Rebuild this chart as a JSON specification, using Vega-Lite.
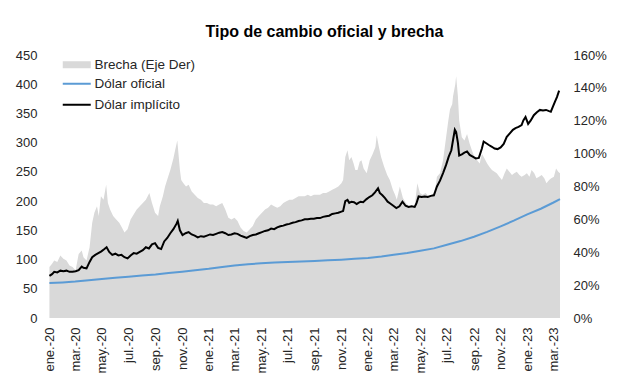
{
  "$schema": "https://vega.github.io/schema/vega-lite/v6.json",
  "width": 511,
  "height": 263,
  "autosize": "none",
  "padding": {"left": 49, "top": 55, "right": 57, "bottom": 74},
  "background": "white",
  "config": {"font": "Liberation Sans", "view": {"stroke": null}},
  "title": {"text": "Tipo de cambio oficial y brecha", "fontSize": 16, "fontWeight": "bold", "color": "#000000", "offset": 9, "dx": 20, "anchor": "middle"},
  "datasets": {
    "brecha": [
      {"fecha": "2020-01-02", "brecha": 0.31}, {"fecha": "2020-01-08", "brecha": 0.33}, {"fecha": "2020-01-13", "brecha": 0.35}, {"fecha": "2020-01-20", "brecha": 0.34}, {"fecha": "2020-01-27", "brecha": 0.38},
      {"fecha": "2020-02-03", "brecha": 0.36}, {"fecha": "2020-02-10", "brecha": 0.35}, {"fecha": "2020-02-17", "brecha": 0.32}, {"fecha": "2020-02-24", "brecha": 0.31},
      {"fecha": "2020-03-02", "brecha": 0.29}, {"fecha": "2020-03-09", "brecha": 0.39}, {"fecha": "2020-03-16", "brecha": 0.41}, {"fecha": "2020-03-20", "brecha": 0.37}, {"fecha": "2020-03-27", "brecha": 0.35},
      {"fecha": "2020-04-03", "brecha": 0.43}, {"fecha": "2020-04-09", "brecha": 0.58}, {"fecha": "2020-04-14", "brecha": 0.64}, {"fecha": "2020-04-20", "brecha": 0.68}, {"fecha": "2020-04-24", "brecha": 0.62}, {"fecha": "2020-04-29", "brecha": 0.74},
      {"fecha": "2020-05-05", "brecha": 0.72}, {"fecha": "2020-05-11", "brecha": 0.81}, {"fecha": "2020-05-15", "brecha": 0.70}, {"fecha": "2020-05-20", "brecha": 0.66}, {"fecha": "2020-05-27", "brecha": 0.62},
      {"fecha": "2020-06-03", "brecha": 0.60}, {"fecha": "2020-06-10", "brecha": 0.58}, {"fecha": "2020-06-16", "brecha": 0.55}, {"fecha": "2020-06-22", "brecha": 0.52}, {"fecha": "2020-06-29", "brecha": 0.54},
      {"fecha": "2020-07-06", "brecha": 0.60}, {"fecha": "2020-07-13", "brecha": 0.63}, {"fecha": "2020-07-20", "brecha": 0.66}, {"fecha": "2020-07-27", "brecha": 0.68},
      {"fecha": "2020-08-03", "brecha": 0.70}, {"fecha": "2020-08-10", "brecha": 0.72}, {"fecha": "2020-08-18", "brecha": 0.76}, {"fecha": "2020-08-24", "brecha": 0.70}, {"fecha": "2020-08-31", "brecha": 0.64},
      {"fecha": "2020-09-07", "brecha": 0.62}, {"fecha": "2020-09-11", "brecha": 0.68}, {"fecha": "2020-09-18", "brecha": 0.74}, {"fecha": "2020-09-23", "brecha": 0.80}, {"fecha": "2020-09-30", "brecha": 0.86},
      {"fecha": "2020-10-05", "brecha": 0.90}, {"fecha": "2020-10-12", "brecha": 0.97}, {"fecha": "2020-10-16", "brecha": 1.02}, {"fecha": "2020-10-21", "brecha": 1.08}, {"fecha": "2020-10-27", "brecha": 0.90}, {"fecha": "2020-10-30", "brecha": 0.84},
      {"fecha": "2020-11-04", "brecha": 0.82}, {"fecha": "2020-11-10", "brecha": 0.80}, {"fecha": "2020-11-16", "brecha": 0.81}, {"fecha": "2020-11-23", "brecha": 0.77}, {"fecha": "2020-11-30", "brecha": 0.75},
      {"fecha": "2020-12-07", "brecha": 0.73}, {"fecha": "2020-12-14", "brecha": 0.72}, {"fecha": "2020-12-21", "brecha": 0.70}, {"fecha": "2020-12-28", "brecha": 0.70},
      {"fecha": "2021-01-04", "brecha": 0.69}, {"fecha": "2021-01-11", "brecha": 0.69}, {"fecha": "2021-01-18", "brecha": 0.68}, {"fecha": "2021-01-25", "brecha": 0.69},
      {"fecha": "2021-02-01", "brecha": 0.70}, {"fecha": "2021-02-08", "brecha": 0.66}, {"fecha": "2021-02-15", "brecha": 0.61}, {"fecha": "2021-02-22", "brecha": 0.60},
      {"fecha": "2021-03-01", "brecha": 0.61}, {"fecha": "2021-03-08", "brecha": 0.59}, {"fecha": "2021-03-15", "brecha": 0.55}, {"fecha": "2021-03-22", "brecha": 0.53}, {"fecha": "2021-03-29", "brecha": 0.52},
      {"fecha": "2021-04-05", "brecha": 0.54}, {"fecha": "2021-04-12", "brecha": 0.56}, {"fecha": "2021-04-19", "brecha": 0.60}, {"fecha": "2021-04-26", "brecha": 0.62},
      {"fecha": "2021-05-03", "brecha": 0.64}, {"fecha": "2021-05-10", "brecha": 0.66}, {"fecha": "2021-05-17", "brecha": 0.67}, {"fecha": "2021-05-24", "brecha": 0.69}, {"fecha": "2021-05-31", "brecha": 0.68},
      {"fecha": "2021-06-07", "brecha": 0.67}, {"fecha": "2021-06-14", "brecha": 0.68}, {"fecha": "2021-06-21", "brecha": 0.70}, {"fecha": "2021-06-28", "brecha": 0.71},
      {"fecha": "2021-07-05", "brecha": 0.72}, {"fecha": "2021-07-12", "brecha": 0.72}, {"fecha": "2021-07-19", "brecha": 0.73}, {"fecha": "2021-07-26", "brecha": 0.74},
      {"fecha": "2021-08-02", "brecha": 0.74}, {"fecha": "2021-08-09", "brecha": 0.74}, {"fecha": "2021-08-16", "brecha": 0.75}, {"fecha": "2021-08-23", "brecha": 0.74}, {"fecha": "2021-08-30", "brecha": 0.75},
      {"fecha": "2021-09-06", "brecha": 0.75}, {"fecha": "2021-09-13", "brecha": 0.75}, {"fecha": "2021-09-20", "brecha": 0.76}, {"fecha": "2021-09-27", "brecha": 0.76},
      {"fecha": "2021-10-04", "brecha": 0.77}, {"fecha": "2021-10-11", "brecha": 0.78}, {"fecha": "2021-10-18", "brecha": 0.79}, {"fecha": "2021-10-25", "brecha": 0.80},
      {"fecha": "2021-11-01", "brecha": 0.82}, {"fecha": "2021-11-05", "brecha": 0.84}, {"fecha": "2021-11-10", "brecha": 0.98}, {"fecha": "2021-11-15", "brecha": 1.02}, {"fecha": "2021-11-19", "brecha": 0.96}, {"fecha": "2021-11-24", "brecha": 0.98}, {"fecha": "2021-11-29", "brecha": 0.94},
      {"fecha": "2021-12-03", "brecha": 0.90}, {"fecha": "2021-12-08", "brecha": 0.90}, {"fecha": "2021-12-13", "brecha": 0.95}, {"fecha": "2021-12-17", "brecha": 0.96}, {"fecha": "2021-12-22", "brecha": 0.91}, {"fecha": "2021-12-29", "brecha": 0.88},
      {"fecha": "2022-01-05", "brecha": 0.96}, {"fecha": "2022-01-12", "brecha": 1.00}, {"fecha": "2022-01-18", "brecha": 1.04}, {"fecha": "2022-01-21", "brecha": 1.11}, {"fecha": "2022-01-26", "brecha": 1.04}, {"fecha": "2022-01-31", "brecha": 0.98},
      {"fecha": "2022-02-07", "brecha": 0.92}, {"fecha": "2022-02-14", "brecha": 0.87}, {"fecha": "2022-02-20", "brecha": 0.84}, {"fecha": "2022-02-27", "brecha": 0.78},
      {"fecha": "2022-03-04", "brecha": 0.75}, {"fecha": "2022-03-08", "brecha": 0.72}, {"fecha": "2022-03-15", "brecha": 0.80}, {"fecha": "2022-03-22", "brecha": 0.73}, {"fecha": "2022-03-29", "brecha": 0.70},
      {"fecha": "2022-04-05", "brecha": 0.68}, {"fecha": "2022-04-12", "brecha": 0.67}, {"fecha": "2022-04-18", "brecha": 0.68}, {"fecha": "2022-04-24", "brecha": 0.82}, {"fecha": "2022-04-30", "brecha": 0.76},
      {"fecha": "2022-05-06", "brecha": 0.75}, {"fecha": "2022-05-13", "brecha": 0.76}, {"fecha": "2022-05-20", "brecha": 0.74}, {"fecha": "2022-05-27", "brecha": 0.75},
      {"fecha": "2022-06-03", "brecha": 0.76}, {"fecha": "2022-06-08", "brecha": 0.86}, {"fecha": "2022-06-15", "brecha": 0.88}, {"fecha": "2022-06-22", "brecha": 0.96}, {"fecha": "2022-06-29", "brecha": 1.10},
      {"fecha": "2022-07-04", "brecha": 1.20}, {"fecha": "2022-07-08", "brecha": 1.27}, {"fecha": "2022-07-13", "brecha": 1.30}, {"fecha": "2022-07-15", "brecha": 1.35}, {"fecha": "2022-07-20", "brecha": 1.42}, {"fecha": "2022-07-22", "brecha": 1.47}, {"fecha": "2022-07-26", "brecha": 1.35}, {"fecha": "2022-07-29", "brecha": 1.20},
      {"fecha": "2022-08-04", "brecha": 1.10}, {"fecha": "2022-08-10", "brecha": 1.08}, {"fecha": "2022-08-16", "brecha": 1.12}, {"fecha": "2022-08-22", "brecha": 1.06}, {"fecha": "2022-08-27", "brecha": 1.02},
      {"fecha": "2022-09-02", "brecha": 0.98}, {"fecha": "2022-09-08", "brecha": 0.96}, {"fecha": "2022-09-14", "brecha": 0.94}, {"fecha": "2022-09-19", "brecha": 1.00}, {"fecha": "2022-09-25", "brecha": 0.97},
      {"fecha": "2022-10-01", "brecha": 0.94}, {"fecha": "2022-10-06", "brecha": 0.92}, {"fecha": "2022-10-12", "brecha": 0.90}, {"fecha": "2022-10-18", "brecha": 0.89}, {"fecha": "2022-10-23", "brecha": 0.88}, {"fecha": "2022-10-29", "brecha": 0.86},
      {"fecha": "2022-11-04", "brecha": 0.84}, {"fecha": "2022-11-10", "brecha": 0.88}, {"fecha": "2022-11-15", "brecha": 0.91}, {"fecha": "2022-11-21", "brecha": 0.89}, {"fecha": "2022-11-27", "brecha": 0.87},
      {"fecha": "2022-12-02", "brecha": 0.88}, {"fecha": "2022-12-08", "brecha": 0.89}, {"fecha": "2022-12-14", "brecha": 0.87}, {"fecha": "2022-12-19", "brecha": 0.86}, {"fecha": "2022-12-26", "brecha": 0.87}, {"fecha": "2022-12-31", "brecha": 0.88},
      {"fecha": "2023-01-06", "brecha": 0.86}, {"fecha": "2023-01-11", "brecha": 0.90}, {"fecha": "2023-01-17", "brecha": 0.88}, {"fecha": "2023-01-22", "brecha": 0.85}, {"fecha": "2023-01-28", "brecha": 0.86},
      {"fecha": "2023-02-03", "brecha": 0.87}, {"fecha": "2023-02-09", "brecha": 0.85}, {"fecha": "2023-02-14", "brecha": 0.82}, {"fecha": "2023-02-20", "brecha": 0.84}, {"fecha": "2023-02-25", "brecha": 0.85},
      {"fecha": "2023-03-03", "brecha": 0.86}, {"fecha": "2023-03-08", "brecha": 0.91}, {"fecha": "2023-03-13", "brecha": 0.89}, {"fecha": "2023-03-17", "brecha": 0.88}
    ],
    "oficial": [
      {"fecha": "2020-01-02", "valor": 59.9}, {"fecha": "2020-02-01", "valor": 60.9}, {"fecha": "2020-03-01", "valor": 62.3}, {"fecha": "2020-04-01", "valor": 64.5}, {"fecha": "2020-05-01", "valor": 66.9},
      {"fecha": "2020-06-01", "valor": 69.0}, {"fecha": "2020-07-01", "valor": 70.7}, {"fecha": "2020-08-01", "valor": 72.6}, {"fecha": "2020-09-01", "valor": 74.4}, {"fecha": "2020-10-01", "valor": 76.8},
      {"fecha": "2020-11-01", "valor": 79.2}, {"fecha": "2020-12-01", "valor": 81.6}, {"fecha": "2021-01-01", "valor": 84.1}, {"fecha": "2021-02-01", "valor": 87.3}, {"fecha": "2021-03-01", "valor": 89.8},
      {"fecha": "2021-04-01", "valor": 92.0}, {"fecha": "2021-05-01", "valor": 93.6}, {"fecha": "2021-06-01", "valor": 94.8}, {"fecha": "2021-07-01", "valor": 95.9}, {"fecha": "2021-08-01", "valor": 96.8},
      {"fecha": "2021-09-01", "valor": 97.7}, {"fecha": "2021-10-01", "valor": 98.7}, {"fecha": "2021-11-01", "valor": 99.8}, {"fecha": "2021-12-01", "valor": 101.3}, {"fecha": "2022-01-01", "valor": 102.8},
      {"fecha": "2022-02-01", "valor": 105.3}, {"fecha": "2022-03-01", "valor": 108.2}, {"fecha": "2022-04-01", "valor": 111.2}, {"fecha": "2022-05-01", "valor": 114.9}, {"fecha": "2022-06-01", "valor": 119.1},
      {"fecha": "2022-07-01", "valor": 125.2}, {"fecha": "2022-08-01", "valor": 131.6}, {"fecha": "2022-09-01", "valor": 139.0}, {"fecha": "2022-10-01", "valor": 147.3}, {"fecha": "2022-11-01", "valor": 156.8},
      {"fecha": "2022-12-01", "valor": 166.5}, {"fecha": "2023-01-01", "valor": 177.2}, {"fecha": "2023-02-01", "valor": 186.9}, {"fecha": "2023-03-01", "valor": 197.2}, {"fecha": "2023-03-17", "valor": 203.5}
    ],
    "implicito": [
      {"fecha": "2020-01-02", "valor": 72}, {"fecha": "2020-01-08", "valor": 75}, {"fecha": "2020-01-13", "valor": 79}, {"fecha": "2020-01-20", "valor": 78}, {"fecha": "2020-01-27", "valor": 81},
      {"fecha": "2020-02-03", "valor": 80}, {"fecha": "2020-02-10", "valor": 81}, {"fecha": "2020-02-17", "valor": 79}, {"fecha": "2020-02-24", "valor": 79},
      {"fecha": "2020-03-02", "valor": 80}, {"fecha": "2020-03-09", "valor": 82}, {"fecha": "2020-03-16", "valor": 88}, {"fecha": "2020-03-20", "valor": 86}, {"fecha": "2020-03-27", "valor": 85},
      {"fecha": "2020-04-03", "valor": 96}, {"fecha": "2020-04-09", "valor": 104}, {"fecha": "2020-04-16", "valor": 108}, {"fecha": "2020-04-23", "valor": 111}, {"fecha": "2020-04-30", "valor": 114},
      {"fecha": "2020-05-07", "valor": 118}, {"fecha": "2020-05-12", "valor": 121}, {"fecha": "2020-05-18", "valor": 113}, {"fecha": "2020-05-25", "valor": 108},
      {"fecha": "2020-06-01", "valor": 110}, {"fecha": "2020-06-08", "valor": 107}, {"fecha": "2020-06-15", "valor": 108}, {"fecha": "2020-06-22", "valor": 104}, {"fecha": "2020-06-29", "valor": 102},
      {"fecha": "2020-07-06", "valor": 107}, {"fecha": "2020-07-13", "valor": 111}, {"fecha": "2020-07-20", "valor": 110}, {"fecha": "2020-07-27", "valor": 113},
      {"fecha": "2020-08-03", "valor": 116}, {"fecha": "2020-08-10", "valor": 121}, {"fecha": "2020-08-17", "valor": 119}, {"fecha": "2020-08-24", "valor": 126}, {"fecha": "2020-08-31", "valor": 128},
      {"fecha": "2020-09-07", "valor": 120}, {"fecha": "2020-09-14", "valor": 118}, {"fecha": "2020-09-21", "valor": 131}, {"fecha": "2020-09-28", "valor": 137},
      {"fecha": "2020-10-05", "valor": 145}, {"fecha": "2020-10-12", "valor": 152}, {"fecha": "2020-10-19", "valor": 161}, {"fecha": "2020-10-22", "valor": 166}, {"fecha": "2020-10-27", "valor": 150},
      {"fecha": "2020-11-02", "valor": 142}, {"fecha": "2020-11-09", "valor": 145}, {"fecha": "2020-11-16", "valor": 147}, {"fecha": "2020-11-23", "valor": 143}, {"fecha": "2020-11-30", "valor": 141},
      {"fecha": "2020-12-07", "valor": 138}, {"fecha": "2020-12-14", "valor": 140}, {"fecha": "2020-12-21", "valor": 139}, {"fecha": "2020-12-28", "valor": 141},
      {"fecha": "2021-01-04", "valor": 143}, {"fecha": "2021-01-11", "valor": 142}, {"fecha": "2021-01-18", "valor": 144}, {"fecha": "2021-01-25", "valor": 146},
      {"fecha": "2021-02-01", "valor": 147}, {"fecha": "2021-02-08", "valor": 145}, {"fecha": "2021-02-15", "valor": 142}, {"fecha": "2021-02-22", "valor": 143},
      {"fecha": "2021-03-01", "valor": 145}, {"fecha": "2021-03-08", "valor": 144}, {"fecha": "2021-03-15", "valor": 141}, {"fecha": "2021-03-22", "valor": 139}, {"fecha": "2021-03-29", "valor": 137},
      {"fecha": "2021-04-05", "valor": 140}, {"fecha": "2021-04-12", "valor": 142}, {"fecha": "2021-04-19", "valor": 143}, {"fecha": "2021-04-26", "valor": 145},
      {"fecha": "2021-05-03", "valor": 147}, {"fecha": "2021-05-10", "valor": 149}, {"fecha": "2021-05-17", "valor": 150}, {"fecha": "2021-05-24", "valor": 153}, {"fecha": "2021-05-31", "valor": 152},
      {"fecha": "2021-06-07", "valor": 155}, {"fecha": "2021-06-14", "valor": 157}, {"fecha": "2021-06-21", "valor": 158}, {"fecha": "2021-06-28", "valor": 160},
      {"fecha": "2021-07-05", "valor": 161}, {"fecha": "2021-07-12", "valor": 163}, {"fecha": "2021-07-19", "valor": 164}, {"fecha": "2021-07-26", "valor": 166},
      {"fecha": "2021-08-02", "valor": 167}, {"fecha": "2021-08-09", "valor": 169}, {"fecha": "2021-08-16", "valor": 169}, {"fecha": "2021-08-23", "valor": 170}, {"fecha": "2021-08-30", "valor": 170},
      {"fecha": "2021-09-06", "valor": 171}, {"fecha": "2021-09-13", "valor": 171}, {"fecha": "2021-09-20", "valor": 173}, {"fecha": "2021-09-27", "valor": 174},
      {"fecha": "2021-10-04", "valor": 175}, {"fecha": "2021-10-11", "valor": 178}, {"fecha": "2021-10-18", "valor": 179}, {"fecha": "2021-10-25", "valor": 180},
      {"fecha": "2021-11-01", "valor": 182}, {"fecha": "2021-11-05", "valor": 183}, {"fecha": "2021-11-10", "valor": 200}, {"fecha": "2021-11-15", "valor": 202}, {"fecha": "2021-11-19", "valor": 197}, {"fecha": "2021-11-24", "valor": 199}, {"fecha": "2021-11-30", "valor": 198},
      {"fecha": "2021-12-06", "valor": 195}, {"fecha": "2021-12-10", "valor": 197}, {"fecha": "2021-12-15", "valor": 199}, {"fecha": "2021-12-21", "valor": 198}, {"fecha": "2021-12-28", "valor": 203},
      {"fecha": "2022-01-04", "valor": 207}, {"fecha": "2022-01-11", "valor": 210}, {"fecha": "2022-01-17", "valor": 215}, {"fecha": "2022-01-24", "valor": 222}, {"fecha": "2022-01-28", "valor": 214},
      {"fecha": "2022-02-03", "valor": 210}, {"fecha": "2022-02-09", "valor": 205}, {"fecha": "2022-02-15", "valor": 199}, {"fecha": "2022-02-21", "valor": 196}, {"fecha": "2022-02-28", "valor": 192},
      {"fecha": "2022-03-07", "valor": 188}, {"fecha": "2022-03-14", "valor": 191}, {"fecha": "2022-03-21", "valor": 199}, {"fecha": "2022-03-28", "valor": 192},
      {"fecha": "2022-04-04", "valor": 190}, {"fecha": "2022-04-11", "valor": 191}, {"fecha": "2022-04-18", "valor": 190}, {"fecha": "2022-04-22", "valor": 196}, {"fecha": "2022-04-27", "valor": 208},
      {"fecha": "2022-05-04", "valor": 207}, {"fecha": "2022-05-11", "valor": 208}, {"fecha": "2022-05-18", "valor": 207}, {"fecha": "2022-05-25", "valor": 209},
      {"fecha": "2022-06-01", "valor": 210}, {"fecha": "2022-06-08", "valor": 225}, {"fecha": "2022-06-15", "valor": 235}, {"fecha": "2022-06-22", "valor": 248}, {"fecha": "2022-06-29", "valor": 262},
      {"fecha": "2022-07-05", "valor": 276}, {"fecha": "2022-07-11", "valor": 287}, {"fecha": "2022-07-15", "valor": 305}, {"fecha": "2022-07-19", "valor": 322}, {"fecha": "2022-07-22", "valor": 318}, {"fecha": "2022-07-26", "valor": 300}, {"fecha": "2022-07-29", "valor": 278},
      {"fecha": "2022-08-04", "valor": 280}, {"fecha": "2022-08-10", "valor": 283}, {"fecha": "2022-08-16", "valor": 285}, {"fecha": "2022-08-22", "valor": 279}, {"fecha": "2022-08-29", "valor": 276},
      {"fecha": "2022-09-05", "valor": 273}, {"fecha": "2022-09-12", "valor": 274}, {"fecha": "2022-09-19", "valor": 290}, {"fecha": "2022-09-23", "valor": 302}, {"fecha": "2022-09-29", "valor": 299},
      {"fecha": "2022-10-05", "valor": 296}, {"fecha": "2022-10-12", "valor": 293}, {"fecha": "2022-10-18", "valor": 290}, {"fecha": "2022-10-25", "valor": 289},
      {"fecha": "2022-11-01", "valor": 292}, {"fecha": "2022-11-08", "valor": 298}, {"fecha": "2022-11-15", "valor": 310}, {"fecha": "2022-11-22", "valor": 316}, {"fecha": "2022-11-29", "valor": 322},
      {"fecha": "2022-12-05", "valor": 325}, {"fecha": "2022-12-12", "valor": 327}, {"fecha": "2022-12-19", "valor": 330}, {"fecha": "2022-12-23", "valor": 338}, {"fecha": "2022-12-28", "valor": 344},
      {"fecha": "2023-01-03", "valor": 332}, {"fecha": "2023-01-09", "valor": 338}, {"fecha": "2023-01-16", "valor": 347}, {"fecha": "2023-01-23", "valor": 352}, {"fecha": "2023-01-30", "valor": 356},
      {"fecha": "2023-02-06", "valor": 355}, {"fecha": "2023-02-13", "valor": 356}, {"fecha": "2023-02-20", "valor": 354}, {"fecha": "2023-02-24", "valor": 353},
      {"fecha": "2023-03-01", "valor": 362}, {"fecha": "2023-03-06", "valor": 371}, {"fecha": "2023-03-10", "valor": 378}, {"fecha": "2023-03-15", "valor": 389}
    ]
  },
  "encoding": {
    "x": {
      "field": "fecha",
      "type": "temporal",
      "scale": {"type": "utc", "domain": [{"year": 2020, "month": 1, "date": 1, "utc": true}, {"year": 2023, "month": 3, "date": 17, "utc": true}], "nice": false},
      "axis": {
        "title": null,
        "domain": false,
        "ticks": false,
        "grid": false,
        "tickCount": {"interval": "month", "step": 2},
        "labelAngle": -90,
        "labelPadding": 9,
        "labelFontSize": 13,
        "labelColor": "#262626",
        "labelOverlap": false,
        "labelFlush": false,
        "labelExpr": "['ene.','feb.','mar.','abr.','may.','jun.','jul.','ago.','sep.','oct.','nov.','dic.'][utcmonth(datum.value)] + '-' + utcFormat(datum.value, '%y')"
      }
    }
  },
  "layer": [
    {
      "data": {"name": "brecha"},
      "mark": {"type": "area", "interpolate": "linear"},
      "encoding": {
        "y": {
          "field": "brecha",
          "type": "quantitative",
          "scale": {"domain": [0, 1.6], "nice": false, "zero": true},
          "axis": {"orient": "right", "title": null, "format": ".0%", "values": [0, 0.2, 0.4, 0.6, 0.8, 1.0, 1.2, 1.4, 1.6], "domain": false, "ticks": false, "grid": false, "labelPadding": 13, "labelFontSize": 13, "labelColor": "#262626"}
        },
        "fill": {
          "datum": "Brecha (Eje Der)",
          "type": "nominal",
          "scale": {"range": ["#d9d9d9"]},
          "legend": {"title": null, "orient": "none", "legendX": 21, "legendY": 3, "padding": 0, "symbolType": "M-2.8,-0.7H2.8V0.7H-2.8Z", "symbolSize": 100, "symbolStrokeWidth": 0, "labelOffset": 11, "labelFontSize": 13.5, "labelColor": "#262626"}
        }
      }
    },
    {
      "data": {"name": "oficial"},
      "mark": {"type": "line", "strokeWidth": 2},
      "encoding": {
        "y": {
          "field": "valor",
          "type": "quantitative",
          "scale": {"domain": [0, 450], "nice": false},
          "axis": {"orient": "left", "title": null, "values": [0, 50, 100, 150, 200, 250, 300, 350, 400, 450], "domain": false, "ticks": false, "grid": false, "labelPadding": 12, "labelFontSize": 13, "labelColor": "#262626"}
        },
        "stroke": {
          "datum": "Dólar oficial",
          "type": "nominal",
          "scale": {"domain": ["Dólar oficial", "Dólar implícito"], "range": ["#5b9bd5", "#000000"]},
          "legend": {"title": null, "orient": "none", "legendX": 21, "legendY": 22, "padding": 0, "symbolType": "M-2.8,0H2.8", "symbolSize": 100, "symbolStrokeWidth": 2, "labelOffset": 11, "labelFontSize": 13.5, "labelColor": "#262626", "rowPadding": 6}
        }
      }
    },
    {
      "data": {"name": "implicito"},
      "mark": {"type": "line", "strokeWidth": 2},
      "encoding": {
        "y": {"field": "valor", "type": "quantitative", "scale": {"domain": [0, 450], "nice": false}, "axis": null},
        "stroke": {"datum": "Dólar implícito", "type": "nominal"}
      }
    }
  ],
  "resolve": {"scale": {"y": "independent"}}
}
